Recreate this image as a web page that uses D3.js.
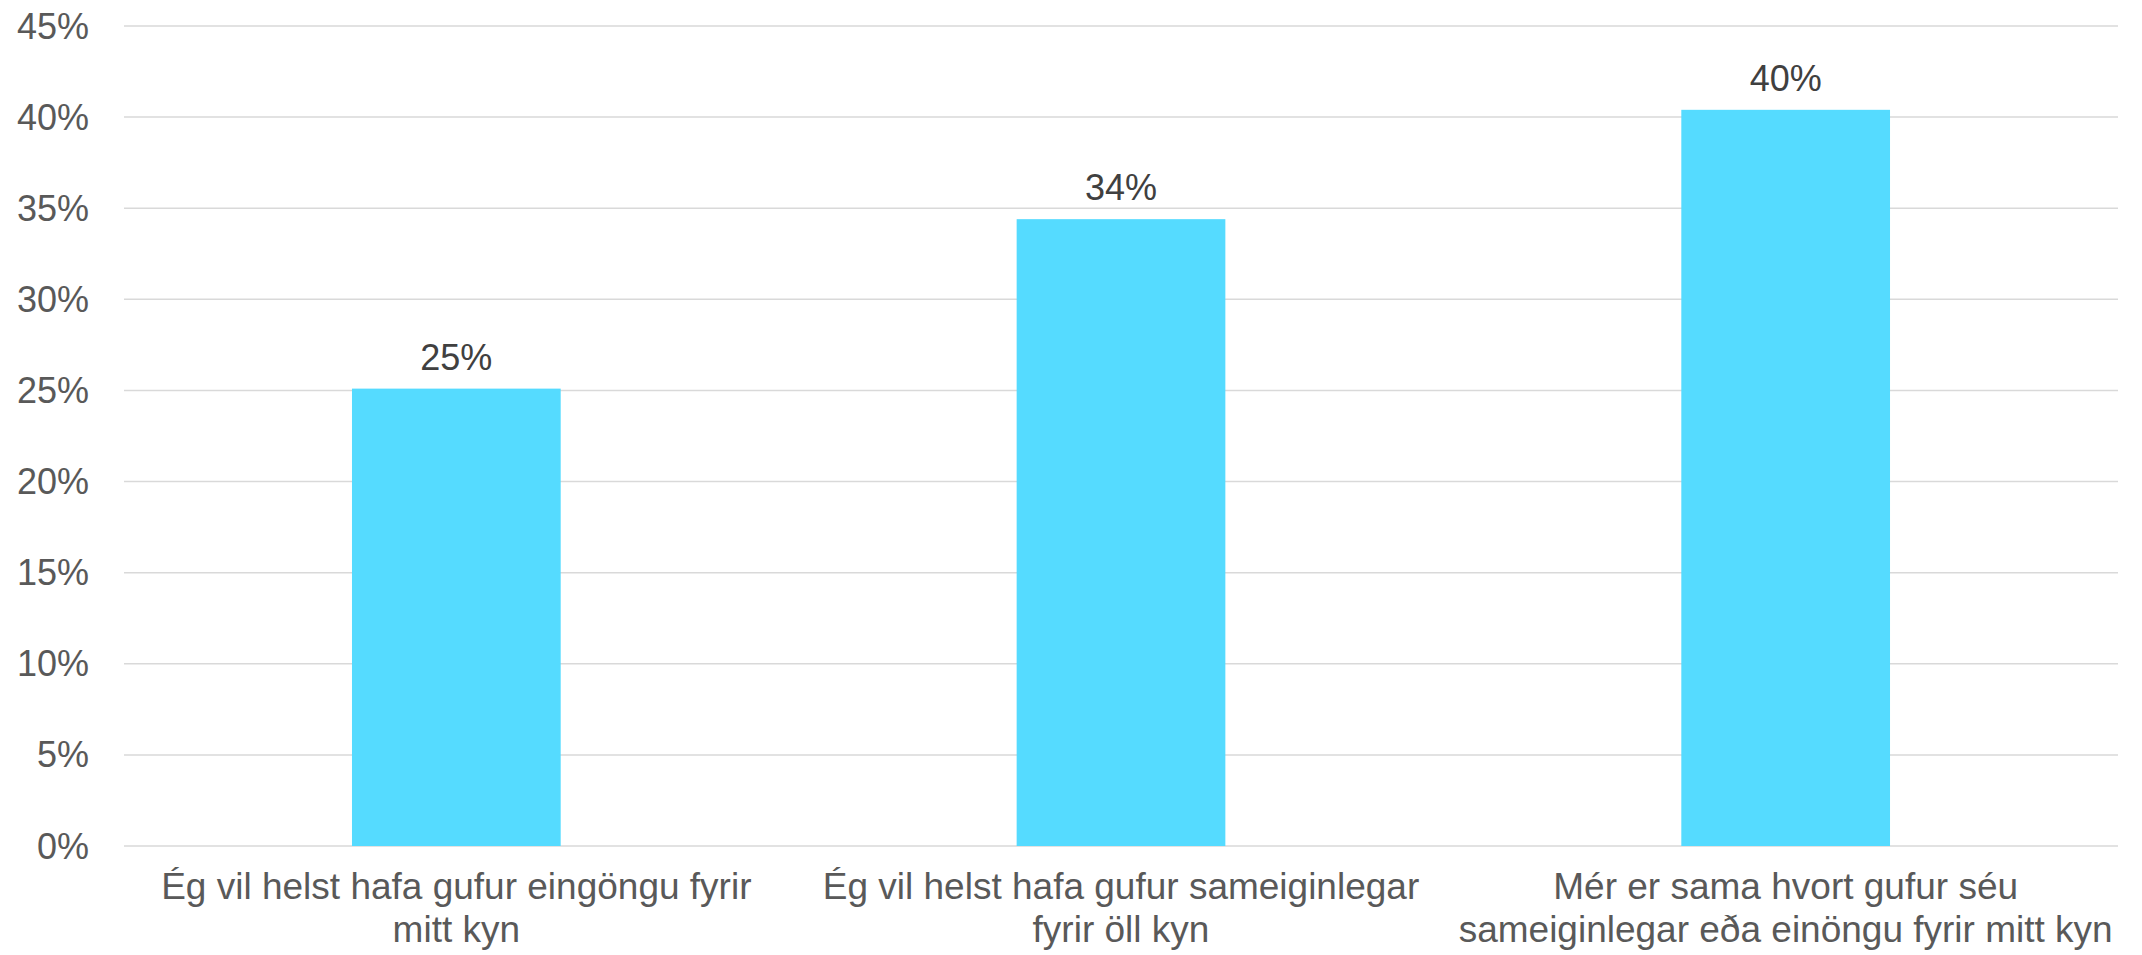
<!DOCTYPE html>
<html>
<head>
<meta charset="utf-8">
<script src="https://cdn.jsdelivr.net/npm/d3@7"></script>
<style>
  body { margin: 0; background: #fff; }
  svg { display: block; font-family: "Liberation Sans", Arial, sans-serif; }
</style>
</head>
<body>
<div id="chart"></div>
<script>
// categories, one array of lines per bar (as wrapped in the original)
var categories = [
    ["Ég vil helst hafa gufur eingöngu fyrir", "mitt kyn"],
    ["Ég vil helst hafa gufur sameiginlegar", "fyrir öll kyn"],
    ["Mér er sama hvort gufur séu", "sameiginlegar eða einöngu fyrir mitt kyn"]
];
var values = [0.251, 0.344, 0.404];
var yTicks = [0, 0.05, 0.10, 0.15, 0.20, 0.25, 0.30, 0.35, 0.40, 0.45];

var width = 2142;
var height = 955;
var margin = { top: 26, right: 24, bottom: 109, left: 124 };

var svg = d3.select("#chart").append("svg")
    .attr("width", width)
    .attr("height", height);

var x = d3.scaleBand()
    .domain(d3.range(categories.length))
    .range([margin.left, width - margin.right])
    .paddingInner(0.686)
    .paddingOuter(0.343);

var y = d3.scaleLinear()
    .domain([0, 0.45])
    .range([height - margin.bottom, margin.top]);

var pct = d3.format(".0%");

// gridlines
svg.append("g")
    .selectAll("line")
    .data(yTicks)
    .enter().append("line")
    .attr("x1", margin.left)
    .attr("x2", width - margin.right)
    .attr("y1", function(d) { return y(d); })
    .attr("y2", function(d) { return y(d); })
    .attr("stroke", "#d9d9d9")
    .attr("stroke-width", 1.5);

// y axis labels
svg.append("g")
    .selectAll("text")
    .data(yTicks)
    .enter().append("text")
    .attr("x", 89)
    .attr("y", function(d) { return y(d); })
    .attr("dy", "0.35em")
    .attr("text-anchor", "end")
    .attr("font-size", 36)
    .attr("fill", "#595959")
    .text(function(d) { return pct(d); });

// bars
svg.append("g")
    .selectAll("rect")
    .data(values)
    .enter().append("rect")
    .attr("x", function(d, i) { return x(i); })
    .attr("y", function(d) { return y(d); })
    .attr("width", x.bandwidth())
    .attr("height", function(d) { return y(0) - y(d); })
    .attr("fill", "#55dbff");

// value labels
svg.append("g")
    .selectAll("text")
    .data(values)
    .enter().append("text")
    .attr("x", function(d, i) { return x(i) + x.bandwidth() / 2; })
    .attr("y", function(d) { return y(d) - 19; })
    .attr("text-anchor", "middle")
    .attr("font-size", 36)
    .attr("fill", "#404040")
    .text(function(d) { return pct(d); });

// category labels
var cat = svg.append("g")
    .selectAll("text")
    .data(categories)
    .enter().append("text")
    .attr("text-anchor", "middle")
    .attr("font-size", 37)
    .attr("fill", "#595959")
    .attr("transform", function(d, i) { return "translate(" + (x(i) + x.bandwidth() / 2) + ",899)"; });

cat.selectAll("tspan")
    .data(function(d) { return d; })
    .enter().append("tspan")
    .attr("x", 0)
    .attr("y", function(d, i) { return i * 43; })
    .text(function(d) { return d; });
</script>
</body>
</html>
